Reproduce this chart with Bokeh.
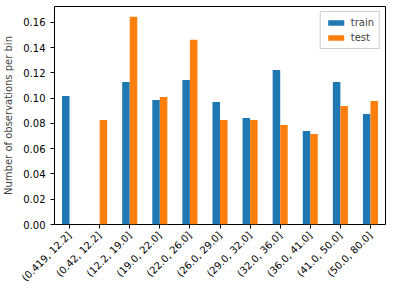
import math
from bokeh.plotting import figure
from bokeh.models import ColumnDataSource, FactorRange, Range1d, FixedTicker, Legend, LegendItem, NumeralTickFormatter
from bokeh.transform import dodge
from bokeh.embed import file_html
from bokeh.resources import INLINE

categories = ["(0.419, 12.2]", "(0.42, 12.2]", "(12.2, 19.0]", "(19.0, 22.0]", "(22.0, 26.0]",
              "(26.0, 29.0]", "(29.0, 32.0]", "(32.0, 36.0]", "(36.0, 41.0]", "(41.0, 50.0]", "(50.0, 80.0]"]
train = [0.1017, 0.0, 0.1128, 0.0986, 0.1144, 0.0970, 0.0843, 0.1224, 0.0740, 0.1128, 0.0875]
test = [0.0, 0.0827, 0.1644, 0.1009, 0.1462, 0.0827, 0.0827, 0.0787, 0.0716, 0.0938, 0.0978]
y_ticks = [0.0, 0.02, 0.04, 0.06, 0.08, 0.10, 0.12, 0.14, 0.16]

src = ColumnDataSource(dict(cat=categories, train=train, test=test))

p = figure(width=401, height=291, x_range=FactorRange(*categories), y_range=Range1d(0, 0.1726),
           output_backend="svg", toolbar_location=None,
           min_border_left=52, min_border_right=16, min_border_top=6, min_border_bottom=67)
p.background_fill_color = "white"
p.border_fill_color = "white"
p.outline_line_color = "black"
p.outline_line_width = 1
p.xgrid.visible = False
p.ygrid.visible = False

r1 = p.vbar(x=dodge("cat", -0.125, range=p.x_range), top="train", width=0.25, source=src,
            fill_color="#1f77b4", line_color=None)
r2 = p.vbar(x=dodge("cat", 0.125, range=p.x_range), top="test", width=0.25, source=src,
            fill_color="#ff7f0e", line_color=None)

font = "DejaVu Sans"
for ax in (p.xaxis[0], p.yaxis[0]):
    ax.axis_line_color = None
    ax.major_tick_line_color = "black"
    ax.major_tick_out = 4
    ax.major_tick_in = 0
    ax.minor_tick_line_color = None
    ax.major_label_text_font = font
    ax.major_label_text_font_size = "10px"
    ax.major_label_text_color = "black"

p.yaxis.ticker = FixedTicker(ticks=y_ticks)
p.yaxis.formatter = NumeralTickFormatter(format="0.00")
p.yaxis.axis_label = "Number of observations per bin"
p.yaxis.axis_label_text_font = font
p.yaxis.axis_label_text_font_size = "10px"
p.yaxis.axis_label_text_font_style = "normal"
p.yaxis.axis_label_standoff = 6
p.xaxis.major_label_orientation = math.pi / 4
p.xaxis.group_text_font_size = "10px"

legend = Legend(items=[LegendItem(label="train", renderers=[r1]), LegendItem(label="test", renderers=[r2])],
                location="top_right")
legend.label_text_font = font
legend.label_text_font_size = "10px"
legend.glyph_width = 20
legend.glyph_height = 7
legend.label_height = 10
legend.spacing = 4
legend.padding = 5
legend.margin = 5
legend.border_line_color = "#cccccc"
legend.border_line_alpha = 1
legend.background_fill_alpha = 0.8
p.add_layout(legend)

open("out.html", "w").write(file_html(p, INLINE))
